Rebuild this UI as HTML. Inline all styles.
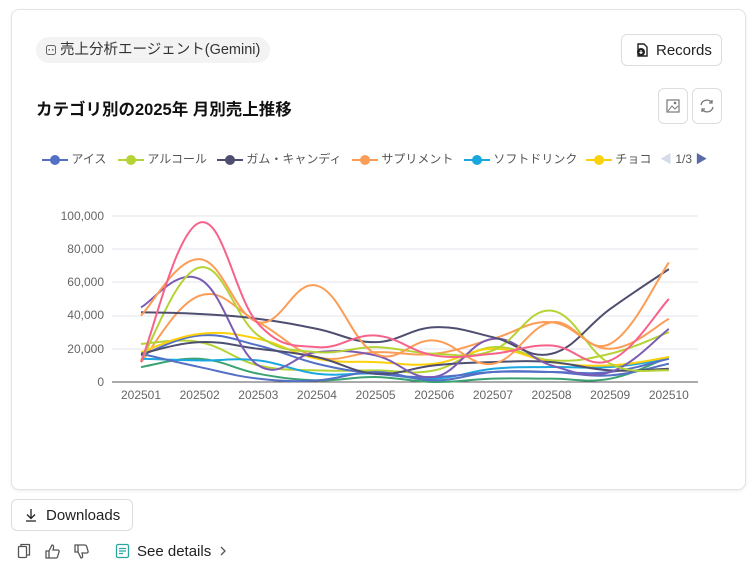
<!DOCTYPE html>
<html><head><meta charset="utf-8">
<style>
*{box-sizing:border-box;margin:0;padding:0}
body{width:756px;height:567px;background:#fff;font-family:"Liberation Sans","Noto Sans CJK JP",sans-serif;position:relative;overflow:hidden;color:#222}
.card{position:absolute;left:11px;top:9px;width:735px;height:481px;border:1px solid #e3e3e3;border-radius:8px;box-shadow:0 1px 3px rgba(0,0,0,0.08)}
.tag{position:absolute;left:36px;top:37px;height:26px;padding:0 10px 0 10px;border-radius:13px;background:#f3f3f3;font-size:14.5px;line-height:26px;color:#333}
.title{position:absolute;left:36px;top:96px;font-size:16.5px;font-weight:bold;color:#111}
.btn{position:absolute;border:1px solid #ddd;border-radius:6px;background:#fff;font-size:15px;color:#222}
.legend{position:absolute;top:150px;left:0;font-size:12px;color:#555}
.li{position:absolute;white-space:nowrap}
.li svg{vertical-align:middle}
</style></head><body>
<div class="card"></div>
<div class="tag"><svg width="10" height="10" style="vertical-align:-1px"><rect x="0.5" y="0.5" width="9" height="9" rx="2" fill="none" stroke="#666"/><rect x="2.5" y="4" width="1.5" height="1.5" fill="#666"/><rect x="6" y="4" width="1.5" height="1.5" fill="#666"/></svg> 売上分析エージェント(Gemini)</div>
<div class="btn" style="left:621px;top:34px;width:101px;height:32px;line-height:32px;padding-left:13px"><svg width="14" height="16" style="vertical-align:-3px"><path d="M3 2 L9 2 L12 5 L12 14 L3 14 Z" fill="none" stroke="#222" stroke-width="1.4"/><circle cx="6" cy="10" r="4" fill="#222"/><path d="M6 8 L6 11 M4.5 10 L6 11.5 L7.5 10" stroke="#fff" stroke-width="1.1" fill="none"/></svg><span style="margin-left:7px">Records</span></div>
<div class="title">カテゴリ別の2025年 月別売上推移</div>
<div class="btn" style="left:658px;top:88px;width:30px;height:36px"><svg width="28" height="34"><rect x="8" y="11" width="12" height="12" fill="none" stroke="#777" stroke-width="1.2"/><path d="M9 22 L13 17 L16 20 L19 17" fill="none" stroke="#777"/><circle cx="16" cy="14" r="1.3" fill="#777"/></svg></div>
<div class="btn" style="left:692px;top:88px;width:30px;height:36px"><svg width="28" height="34"><path d="M8 16 A6 6 0 0 1 19 14 M20 18 A6 6 0 0 1 9 20" fill="none" stroke="#777" stroke-width="1.3"/><path d="M19 11 L19 14 L16 14 M9 23 L9 20 L12 20" fill="none" stroke="#777" stroke-width="1.3"/></svg></div>

<div class="legend">
<div class="li" style="left:42px"><svg width="26" height="14"><line x1="0" y1="7" x2="26" y2="7" stroke="#5470c6" stroke-width="2"/><circle cx="13" cy="7" r="5" fill="#5470c6"/></svg> アイス</div>
<div class="li" style="left:118px"><svg width="26" height="14"><line x1="0" y1="7" x2="26" y2="7" stroke="#b5d334" stroke-width="2"/><circle cx="13" cy="7" r="5" fill="#b5d334"/></svg> アルコール</div>
<div class="li" style="left:217px"><svg width="26" height="14"><line x1="0" y1="7" x2="26" y2="7" stroke="#4e4f70" stroke-width="2"/><circle cx="13" cy="7" r="5" fill="#4e4f70"/></svg> ガム・キャンディ</div>
<div class="li" style="left:352px"><svg width="26" height="14"><line x1="0" y1="7" x2="26" y2="7" stroke="#fc9d56" stroke-width="2"/><circle cx="13" cy="7" r="5" fill="#fc9d56"/></svg> サプリメント</div>
<div class="li" style="left:464px"><svg width="26" height="14"><line x1="0" y1="7" x2="26" y2="7" stroke="#1aa6df" stroke-width="2"/><circle cx="13" cy="7" r="5" fill="#1aa6df"/></svg> ソフトドリンク</div>
<div class="li" style="left:586px"><svg width="26" height="14"><line x1="0" y1="7" x2="26" y2="7" stroke="#fcd10c" stroke-width="2"/><circle cx="13" cy="7" r="5" fill="#fcd10c"/></svg> チョコ</div>
<div class="li" style="left:660px;color:#555"><span style="color:#d5dbe8">◀</span> 1/3 <span style="color:#5a6aa8">▶</span></div>
</div>

<div class="btn" style="left:11px;top:499px;width:122px;height:32px;line-height:32px;padding-left:34px;font-size:15px">Downloads</div>
<div style="position:absolute;left:137px;top:543px;font-size:15px;color:#222">See details</div>

<svg id="ch" style="position:absolute;left:0;top:0;z-index:2" width="756" height="567">
<g font-size="12" fill="#666" text-anchor="end" font-family="Liberation Sans,sans-serif">
<text x="104" y="220">100,000</text><text x="104" y="253">80,000</text><text x="104" y="286">60,000</text><text x="104" y="319">40,000</text><text x="104" y="353">20,000</text><text x="104" y="386">0</text>
</g>
<g stroke="#e6e6ee" stroke-width="1">
<line x1="112" y1="216" x2="698" y2="216"/><line x1="112" y1="249" x2="698" y2="249"/><line x1="112" y1="282" x2="698" y2="282"/><line x1="112" y1="316" x2="698" y2="316"/><line x1="112" y1="349" x2="698" y2="349"/>
</g>
<line x1="112" y1="382" x2="698" y2="382" stroke="#555" stroke-width="1"/>
<g id="xl" font-size="12" fill="#666" text-anchor="middle" font-family="Liberation Sans,sans-serif"></g>
<g id="lines" fill="none" stroke-width="2"></g>
<g fill="none" stroke="#555" stroke-width="1.3">
<rect x="18.5" y="546.5" width="8" height="11" rx="1"/><path d="M21 546 L21 544.5 L29.5 544.5 L29.5 555 L27 555"/>
<path d="M46 551 L49 551 L49 558 L46 558 Z M49 551 L52 545 Q54 545 53.5 548 L53 550 L58 550 Q59.5 550.5 59 552 L57.5 557 Q57 558 56 558 L49 558"/>
<path d="M75 552 L78 552 L78 545 L75 545 Z M78 552 L81 558 Q83 558 82.5 555 L82 553 L87 553 Q88.5 552.5 88 551 L86.5 546 Q86 545 85 545 L78 545"/>
<rect x="116.5" y="544.5" width="12" height="13" rx="1.5" stroke="#2aa7a0"/><path d="M119 548.5 H126 M119 551 H126 M119 553.5 H123" stroke="#2aa7a0"/>
<path d="M221 547 L225 551 L221 555" stroke="#555"/>
</g>
<g fill="none" stroke="#222" stroke-width="1.3"><path d="M31 509 L31 518 M27 514.5 L31 518.5 L35 514.5 M26 521 L36 521"/></g>
</svg>

<script>
var x0=141,dx=58.65,y0=382,k=1.66;
var xl=document.getElementById('xl');
var m=['202501','202502','202503','202504','202505','202506','202507','202508','202509','202510'];
m.forEach(function(s,i){var t=document.createElementNS('http://www.w3.org/2000/svg','text');t.setAttribute('x',x0+i*dx);t.setAttribute('y',399);t.textContent=s;xl.appendChild(t);});
var S=[
['#fc9d56',[12,52,36,15,18,17,26,36,20,38]],
['#b5d334',[23,24,10,7,7,7,21,13,17,30]],
['#3ba272',[9,14,5,1,3,0,2,2,2,15]],
['#1aa6df',[14,13,13,5,5,2,8,9,9,14]],
['#5470c6',[17,9,2,1,6,1,6,6,4,11]],
['#5470c6',[16,28,22,11,5,3,6,6,6,14]],
['#fcd10c',[18,29,26,14,12,11,20,12,10,15]],
['#4e4f70',[17,24,20,15,5,10,12,12,7,8]],
['#7b5bb5',[45,62,10,18,16,3,26,10,6,32]],
['#b5d334',[13,69,28,18,21,17,19,43,11,7]],
['#4e4f70',[42,41,38,32,24,33,27,17,44,68]],
['#fc9d56',[40,74,36,58,17,25,11,36,23,72]],
['#f7628a',[12,96,35,21,28,16,17,22,13,50]]
];
var g=document.getElementById('lines');
S.forEach(function(s){
 var p=s[1].map(function(v,i){return [x0+i*dx,y0-v*k];});
 var d='M'+p[0][0]+' '+p[0][1];
 for(var i=0;i<p.length-1;i++){
  var a=p[Math.max(i-1,0)],b=p[i],c=p[i+1],e=p[Math.min(i+2,p.length-1)];
  var t=0.2;
  var c1=[b[0]+(c[0]-a[0])*t,b[1]+(c[1]-a[1])*t],c2=[c[0]-(e[0]-b[0])*t,c[1]-(e[1]-b[1])*t];
  d+=' C'+c1[0]+' '+c1[1]+' '+c2[0]+' '+c2[1]+' '+c[0]+' '+c[1];
 }
 var el=document.createElementNS('http://www.w3.org/2000/svg','path');
 el.setAttribute('d',d);el.setAttribute('stroke',s[0]);g.appendChild(el);
});
</script>
</body></html>
